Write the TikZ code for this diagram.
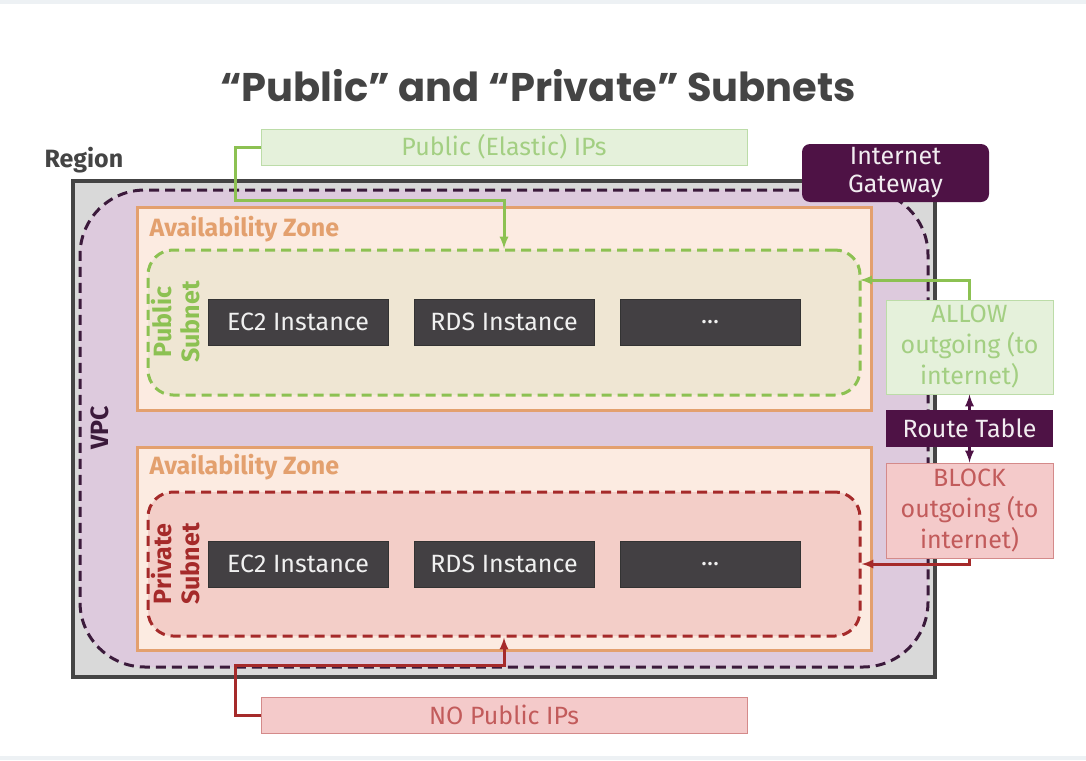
\documentclass[tikz,border=0pt]{standalone}
\usepackage{fontspec}
\setmainfont{Fira Sans}
\newfontfamily\titlefont{Poppins}
\usetikzlibrary{arrows}
\usetikzlibrary{calc}

\definecolor{regfill}{HTML}{D9D9D9}
\definecolor{regline}{HTML}{444444}
\definecolor{vpcfill}{HTML}{DDCADD}
\definecolor{vpcline}{HTML}{3B1A3B}
\definecolor{azfill}{HTML}{FCEBE1}
\definecolor{azline}{HTML}{E3A06E}
\definecolor{pubfill}{HTML}{EFE6D3}
\definecolor{publine}{HTML}{8CC152}
\definecolor{privfill}{HTML}{F3CEC8}
\definecolor{privline}{HTML}{A52A2A}
\definecolor{instfill}{HTML}{434043}
\definecolor{okfill}{HTML}{E5F1DB}
\definecolor{okline}{HTML}{BCDCA8}
\definecolor{oktext}{HTML}{A3CF82}
\definecolor{nofill}{HTML}{F4CACA}
\definecolor{noline}{HTML}{D48A8A}
\definecolor{notext}{HTML}{C25B5B}
\definecolor{gwfill}{HTML}{4E1245}
\definecolor{strip}{HTML}{EDF1F4}

\begin{document}
\begin{tikzpicture}[x=1pt,y=-1pt,
    box/.style={inner sep=0pt,minimum width=#1},
    inst/.style={box=180,minimum height=46,fill=instfill,draw=black!80,line width=1pt,
      text=white!94!black,font=\fontsize{25}{28}\selectfont},
    zone/.style={box=734,minimum height=203,fill=azfill,draw=azline,line width=3pt},
    ok/.style={fill=okfill,draw=okline,line width=1pt,text=oktext,align=center,
      font=\fontsize{25}{31}\selectfont},
    no/.style={fill=nofill,draw=noline,line width=1pt,text=notext,align=center,
      font=\fontsize{25}{31}\selectfont},
    gw/.style={fill=gwfill,text=white!92!gwfill,align=center,font=\fontsize{25}{31}\selectfont},
    tag/.style={font=\bfseries\fontsize{25}{28}\selectfont},
    link/.style={line width=3pt}]
  \useasboundingbox (0,0) rectangle (1086,760);
  \fill[strip] (0,0) rectangle (1086,4);
  \fill[strip] (0,756) rectangle (1086,760);

  \node[font=\titlefont\bfseries\fontsize{40}{44}\selectfont,text=regline] (title) at (538,86)
    {“Public” and “Private” Subnets};

  \node[tag,text=regline,anchor=west] (reglbl) at (41,160) {Region};
  \node[box=862,minimum height=496,fill=regfill,draw=regline,line width=4pt] (region) at (504,429) {};
  \node[box=848,minimum height=477,fill=vpcfill,draw=vpcline,line width=3pt,
    dash pattern=on 10pt off 6pt,rounded corners=65pt] (vpc) at (504,428.5) {};
  \node[tag,text=vpcline,rotate=90] (vpclbl) at (100,428) {VPC};

  % first zone, public subnet
  \node[zone] (azA) at (504,308.5) {};
  \node[tag,text=azline,anchor=west] (azAlbl) at (146,229) {Availability Zone};
  \node[box=712,minimum height=145,fill=pubfill,draw=publine,line width=3pt,
    dash pattern=on 10pt off 6pt,rounded corners=25pt] (pubnet) at (504,322.5) {};
  \node[tag,text=publine,rotate=90,align=center] (publbl) at (176,322) {Public\\Subnet};
  \node[inst] (ec2A) at (298,322) {EC2 Instance};
  \node[inst] (rdsA) at (504,322) {RDS Instance};
  \node[inst] (moreA) at (710,322) {...};

  % second zone, private subnet
  \node[zone] (azB) at (504,548.5) {};
  \node[tag,text=azline,anchor=west] (azBlbl) at (146,467) {Availability Zone};
  \node[box=712,minimum height=144,fill=privfill,draw=privline,line width=3pt,
    dash pattern=on 10pt off 6pt,rounded corners=25pt] (privnet) at (504,564) {};
  \node[tag,text=privline,rotate=90,align=center] (privlbl) at (176,564) {Private\\Subnet};
  \node[inst] (ec2B) at (298,564) {EC2 Instance};
  \node[inst] (rdsB) at (504,564) {RDS Instance};
  \node[inst] (moreB) at (710,564) {...};

  % notes and routing
  \node[ok,box=486,minimum height=36] (eips) at (504,147) {Public (Elastic) IPs};
  \node[no,box=486,minimum height=36] (noips) at (504,715) {NO Public IPs};
  \node[gw,box=187,minimum height=58,rounded corners=8pt] (igw) at (895.5,173) {Internet\\[-3pt]Gateway};
  \node[ok,box=167,minimum height=94] (allow) at (969.5,347) {ALLOW\\outgoing (to\\internet)};
  \node[gw,box=167,minimum height=37] (rtable) at (969.5,428.5) {Route Table};
  \node[no,box=167,minimum height=95] (block) at (969.5,510.5) {BLOCK\\outgoing (to\\internet)};

  \coordinate (eipsbend) at (235,200);
  \coordinate (noipsbend) at (235,665);
  \coordinate (allowin) at (860,280);

  \draw[link,publine,-latex] (eips.west) -| (eipsbend) -| (pubnet.north);
  \draw[link,privline,-latex] (noips.west) -| (noipsbend) -| (privnet.south);
  \draw[link,publine,-latex] (allow.north) |- (allowin);
  \draw[link,privline,-latex] (block.south) |- (privnet.east);
  \draw[link,gwfill,-latex] (rtable.north) -- (allow.south);
  \draw[link,gwfill,-latex] (rtable.south) -- (block.north);
\end{tikzpicture}
\end{document}
